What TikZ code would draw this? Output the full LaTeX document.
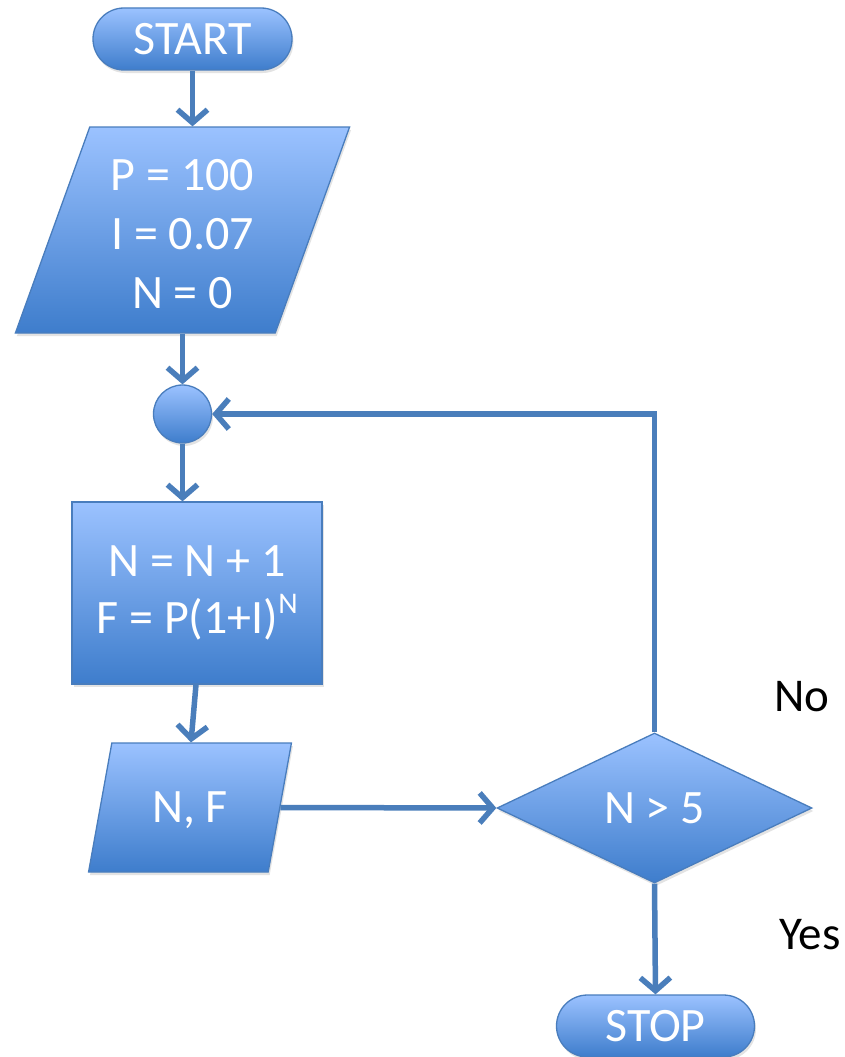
\documentclass[tikz,border=0pt]{standalone}
\usepackage{fontspec}
\setmainfont{Carlito}
\usetikzlibrary{shapes.geometric,arrows.meta,shadows}
\definecolor{ftop}{RGB}{155,194,255}
\definecolor{fbot}{RGB}{62,125,204}
\definecolor{edgec}{RGB}{73,125,189}
\definecolor{arrc}{RGB}{74,126,187}
\begin{document}
\begin{tikzpicture}[x=1pt,y=-1pt,
 box/.style={draw=edgec, line width=1.3pt, top color=ftop, bottom color=fbot, text=white,
   font=\fontsize{48}{59}\selectfont, inner sep=0pt,
   drop shadow={opacity=0.22,shadow xshift=1.5pt,shadow yshift=-3pt}},
 term/.style={box, rectangle, rounded corners=31pt, minimum width=199pt, minimum height=62pt},
 io/.style={box, trapezium, trapezium stretches=true, trapezium left angle=72, trapezium right angle=108},
 conn/.style={draw=arrc, line width=5.5pt, -{Straight Barb[length=13pt,width=30pt]}},
 lbl/.style={font=\fontsize{47}{59}\selectfont, text=black}]
\fill[white] (0,0) rectangle (844,1057);
\path[use as bounding box] (0,0) rectangle (844,1057);

\node[term] (start) at (192.5,39) {START};
\node[io, minimum width=335pt, minimum height=206pt, align=center] (par1) at (182.5,230)
  {\raisebox{-8pt}[\height][\depth]{\begin{tabular}{@{}c@{}}P = 100\\I = 0.07\\N = 0\end{tabular}}};
\node[box, circle, minimum size=58pt] (circ) at (182.5,414) {};
\node[box, rectangle, minimum width=250pt, minimum height=182pt, align=center, font=\fontsize{48}{57}\selectfont] (proc) at (197,593)
  {N = N + 1\\F = P(1+I)\raisebox{0.42em}{\fontsize{30}{30}\selectfont N}};
\node[io, minimum width=204pt, minimum height=129pt, trapezium left angle=73, trapezium right angle=107] (out) at (190,807.5)
  {\raisebox{-3pt}[\height][\depth]{N, F}};
\node[box, diamond, aspect=2.1, minimum width=315pt, minimum height=150pt] (dec) at (654.5,808) {N > 5};
\node[term, minimum width=198pt] (stop) at (655.5,1026) {STOP};
\node[lbl] (no) at (802,697) {No};
\node[lbl] (yes) at (810,935) {Yes};

\draw[conn] (start.south) -- (start.south |- par1.top side);
\draw[conn] (circ.north |- par1.bottom side) -- (circ.north);
\draw[conn] (circ.south) -- (circ.south |- proc.north);
\draw[conn] ([xshift=-1pt]proc.south) -- ([xshift=-6pt]proc.south |- out.top side);
\draw[conn] (out.right side) -- (dec.west);
\draw[conn] (dec.north) -- (dec.north |- circ.east) -- (circ.east);
\draw[conn] (dec.south) -- (stop.north);
\end{tikzpicture}
\end{document}
